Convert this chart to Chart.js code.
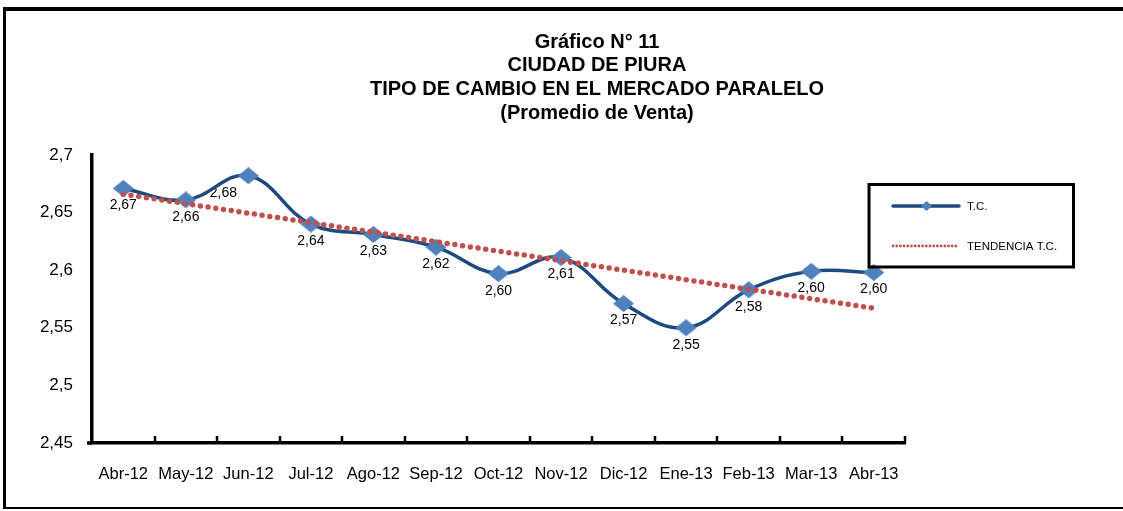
<!DOCTYPE html>
<html lang="es">
<head>
<meta charset="utf-8">
<title>Tipo de cambio - Piura</title>
<script src="https://cdn.jsdelivr.net/npm/chart.js@4.4.1/dist/chart.umd.min.js"></script>
<style>
  html, body { margin: 0; padding: 0; background: #fff; overflow: hidden; }
  #wrap { position: relative; width: 1123px; height: 511px; }
  #marco {
    position: absolute; left: 3px; top: 7px; width: 1200px; height: 496px;
    border-top: 4px solid #000; border-left: 3px solid #000; border-bottom: 2px solid #000;
    pointer-events: none;
  }
</style>
</head>
<body>
<div id="wrap">
  <canvas id="grafico" width="1123" height="511"></canvas>
  <div id="marco"></div>
</div>
<script>
// ================= DATOS =================
const meses = ['Abr-12', 'May-12', 'Jun-12', 'Jul-12', 'Ago-12', 'Sep-12', 'Oct-12',
  'Nov-12', 'Dic-12', 'Ene-13', 'Feb-13', 'Mar-13', 'Abr-13'];
const tipoCambio = [2.671, 2.661, 2.682, 2.640, 2.631, 2.620, 2.597, 2.611, 2.571, 2.550, 2.583, 2.599, 2.598];
// línea de tendencia: sólo extremos
const tendencia = [2.666, null, null, null, null, null, null, null, null, null, null, null, 2.567];
const ticksY = [2.45, 2.5, 2.55, 2.6, 2.65, 2.7];
const titulo = ['Gráfico N° 11', 'CIUDAD DE PIURA', 'TIPO DE CAMBIO EN EL MERCADO PARALELO', '(Promedio de Venta)'];
const leyenda = ['T.C.', 'TENDENCIA T.C.'];

const FUENTE = '"Liberation Sans", Arial, sans-serif';
const AZUL = '#1F4A80';
const AZUL_MARCA = '#4F81BD';
const ROJO = '#C0504D';

// formato con coma decimal
function coma(v, dec) {
  const s = dec === undefined ? String(Number(v.toFixed(2))) : v.toFixed(dec);
  return s.replace('.', ',');
}

// marcador rombo (un poco más ancho que alto, como en el original)
function rombo(w, h, color) {
  const c = document.createElement('canvas');
  c.width = w; c.height = h;
  const g = c.getContext('2d');
  g.fillStyle = color;
  g.beginPath();
  g.moveTo(w / 2, 0); g.lineTo(w, h / 2); g.lineTo(w / 2, h); g.lineTo(0, h / 2);
  g.closePath(); g.fill();
  return c;
}

// ================= PLUGINS =================
const tituloPlugin = {
  id: 'tituloPlugin',
  afterDraw(chart) {
    const ctx = chart.ctx;
    ctx.save();
    ctx.fillStyle = '#000';
    ctx.font = 'bold 20px ' + FUENTE;
    ctx.textAlign = 'center';
    ctx.textBaseline = 'middle';
    titulo.forEach((t, i) => ctx.fillText(t, 597, 42 + i * 23.7));
    ctx.restore();
  }
};

const etiquetasPlugin = {
  id: 'etiquetasPlugin',
  beforeDatasetsDraw(chart) {
    const ctx = chart.ctx;
    const meta = chart.getDatasetMeta(1);
    ctx.save();
    ctx.fillStyle = '#000';
    ctx.font = '14px ' + FUENTE;
    ctx.textAlign = 'center';
    ctx.textBaseline = 'middle';
    meta.data.forEach((p, i) => {
      const dx = i === 2 ? -25 : 0; // Jun-12 va a la izquierda
      ctx.fillText(coma(tipoCambio[i], 2), p.x + dx, p.y + 17);
    });
    ctx.restore();
  }
};

const ejesPlugin = {
  id: 'ejesPlugin',
  afterDraw(chart) {
    const ctx = chart.ctx;
    const a = chart.chartArea;
    const x = chart.scales.x;
    const medio = (x.getPixelForValue(1) - x.getPixelForValue(0)) / 2;
    ctx.save();
    ctx.strokeStyle = '#000';
    ctx.lineWidth = 3.5;
    ctx.beginPath();
    ctx.moveTo(a.left - 5, a.bottom);
    ctx.lineTo(a.left, a.bottom);
    ctx.stroke();
    ctx.lineWidth = 2.5;
    ctx.beginPath();
    for (let i = 0; i < meses.length; i++) {
      const xb = Math.round(x.getPixelForValue(i) + medio);
      ctx.moveTo(xb, a.bottom);
      ctx.lineTo(xb, a.bottom - 7);
    }
    ctx.stroke();
    ctx.restore();
  }
};

const leyendaPlugin = {
  id: 'leyendaPlugin',
  afterDraw(chart) {
    const ctx = chart.ctx;
    ctx.save();
    // caja
    ctx.strokeStyle = '#000';
    ctx.lineWidth = 3;
    ctx.strokeRect(869, 184.5, 204.5, 82.5);
    // T.C.
    ctx.strokeStyle = AZUL;
    ctx.lineWidth = 3.5;
    ctx.lineCap = 'round';
    ctx.beginPath(); ctx.moveTo(893, 206); ctx.lineTo(959, 206); ctx.stroke();
    ctx.drawImage(rombo(11, 10, AZUL_MARCA), 921, 201);
    // tendencia
    ctx.strokeStyle = ROJO;
    ctx.lineWidth = 2.8;
    ctx.setLineDash([0, 3.7]);
    ctx.beginPath(); ctx.moveTo(893, 246); ctx.lineTo(957, 246); ctx.stroke();
    ctx.setLineDash([]);
    // textos
    ctx.fillStyle = '#000';
    ctx.font = '11.5px ' + FUENTE;
    ctx.textBaseline = 'middle';
    ctx.fillText(leyenda[0], 967, 207);
    ctx.fillText(leyenda[1], 967, 247);
    ctx.restore();
  }
};

// ================= GRÁFICO =================
const ctx = document.getElementById('grafico');

new Chart(ctx, {
  type: 'line',
  data: {
    labels: meses,
    datasets: [{
      label: leyenda[1],
      data: tendencia,
      order: 0,
      spanGaps: true,
      borderColor: ROJO,
      borderWidth: 5.5,
      borderDash: [0, 7.8],
      borderCapStyle: 'round',
      pointRadius: 0,
      tension: 0,
      fill: false
    }, {
      label: leyenda[0],
      data: tipoCambio,
      order: 1,
      borderColor: AZUL,
      borderWidth: 3.5,
      tension: 0.4,
      pointStyle: rombo(21, 17, AZUL_MARCA),
      pointRadius: 10,
      fill: false
    }]
  },
  options: {
    responsive: false,
    animation: false,
    devicePixelRatio: 1,
    layout: { padding: { left: 20, right: 218, top: 155, bottom: 0 } },
    plugins: {
      legend: { display: false },
      tooltip: { enabled: false },
      title: { display: false }
    },
    scales: {
      x: {
        offset: true,
        grid: { display: false, drawTicks: false },
        border: { display: true, color: '#000', width: 3.5 },
        ticks: {
          color: '#000',
          font: { family: FUENTE, size: 16.5 },
          padding: 22,
          maxRotation: 0,
          autoSkip: false
        },
        afterFit: s => { s.height = 68; }
      },
      y: {
        min: 2.45,
        max: 2.7,
        grid: { display: false, drawTicks: false },
        border: { display: true, color: '#000', width: 3.5 },
        afterBuildTicks: s => { s.ticks = ticksY.map(v => ({ value: v })); },
        ticks: {
          color: '#000',
          font: { family: FUENTE, size: 17 },
          padding: 19,
          callback: v => coma(v)
        },
        afterFit: s => { s.width = 72; }
      }
    }
  },
  plugins: [etiquetasPlugin, ejesPlugin, leyendaPlugin, tituloPlugin]
});
</script>
</body>
</html>
